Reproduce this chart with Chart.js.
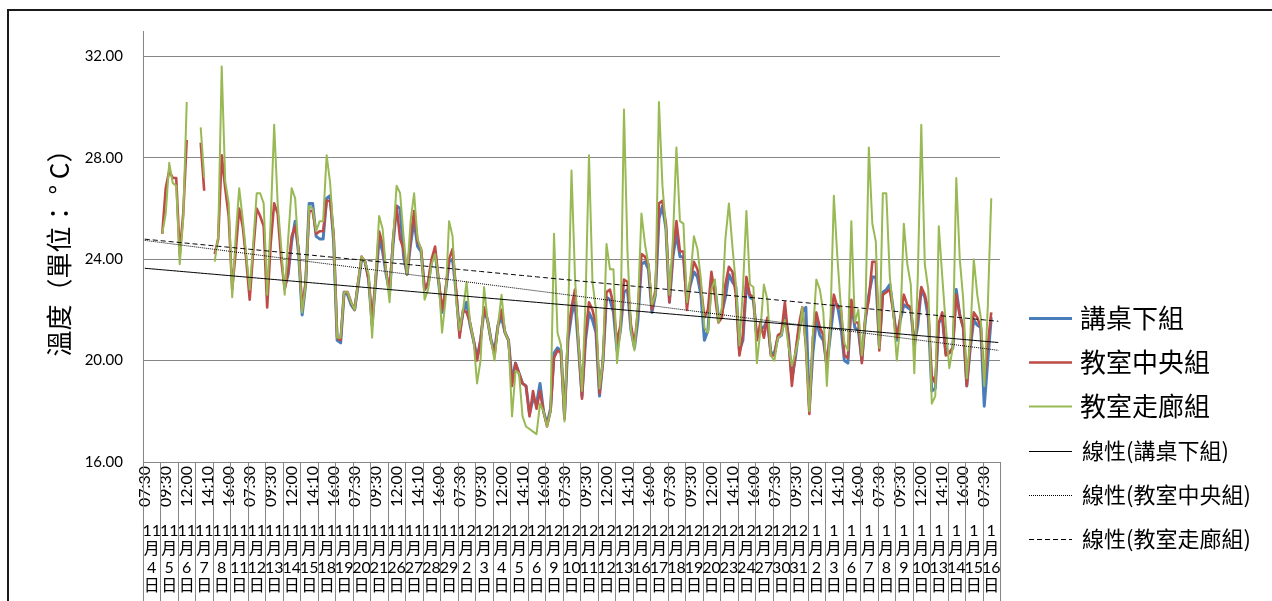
<!DOCTYPE html>
<html lang="zh-Hant">
<head>
<meta charset="UTF-8">
<title>溫度</title>
<script src="https://cdn.jsdelivr.net/npm/chart.js@4.4.1/dist/chart.umd.min.js"></script>
<style>
  html, body { margin: 0; padding: 0; background: #fff; overflow: hidden; }
  #frame { position: absolute; left: 7px; top: 9px; width: 1400px; height: 700px;
           border-left: 2px solid #1a1a1a; border-top: 2px solid #1a1a1a; }
  #grafico { position: absolute; left: 0; top: 0; }
</style>
</head>
<body>
<div id="frame"></div>
<canvas id="grafico" width="1272" height="601"></canvas>
<script>
// fechas de medición y horas de cada día
const days = ['11/4','11/5','11/6','11/7','11/8','11/11','11/12','11/13','11/14','11/15',
  '11/18','11/19','11/20','11/21','11/26','11/27','11/28','11/29',
  '12/2','12/3','12/4','12/5','12/6','12/9','12/10','12/11','12/12','12/13',
  '12/16','12/17','12/18','12/19','12/20','12/23','12/24','12/27','12/30','12/31',
  '1/2','1/3','1/6','1/7','1/8','1/9','1/10','1/13','1/14','1/15','1/16'];
const times = ['07:30','09:30','12:00','14:10','16:00'];

// 講桌下組
const deskGroup = [
  null,null,null,null,null,null,null,null,null,null,
  null,null,null,null,null,null,null,null,null,null,
  null,null,null,null,null,null,null,null,null,null,
  null,null,null,null,null,null,null,null,null,null,
  22.9,23.4,24.7,25.5,24.2,21.8,23.0,26.2,26.2,24.9,
  24.8,24.8,26.4,26.5,24.7,20.8,20.7,22.7,22.6,22.2,
  22.0,23.0,24.0,23.9,23.2,21.4,23.1,24.8,24.3,23.4,
  22.7,24.6,26.1,26.0,24.1,23.4,24.6,25.5,24.5,24.3,
  22.8,23.0,23.9,24.3,23.1,21.9,22.7,23.9,24.0,22.7,
  21.1,21.9,22.3,21.4,20.8,20.1,20.8,22.0,21.6,20.8,
  20.4,21.4,21.7,21.1,20.8,19.2,19.9,19.5,19.1,19.0,
  17.9,18.5,18.3,19.1,18.0,17.5,18.1,20.3,20.5,20.4,
  17.8,20.8,21.8,22.3,20.5,18.6,20.8,21.9,21.6,21.1,
  18.6,20.0,22.5,22.4,21.9,20.4,21.2,22.7,22.8,21.2,
  20.5,21.6,23.8,23.9,23.6,21.9,22.6,25.6,26.1,25.2,
  22.3,24.1,25.0,24.1,24.1,22.3,23.0,23.5,23.3,22.6,
  20.8,21.2,23.2,22.9,21.7,21.9,22.5,23.4,23.1,22.9,
  20.4,20.8,23.0,22.5,22.4,20.9,21.3,21.3,21.6,20.3,
  20.3,20.9,21.0,21.8,21.0,19.3,20.1,21.2,21.9,22.1,
  18.2,20.3,21.6,21.0,20.8,19.8,21.0,22.2,22.2,21.4,
  20.0,19.9,22.3,21.3,21.2,20.0,21.6,22.6,23.3,23.3,
  20.6,22.7,22.8,23.0,22.0,20.8,21.6,22.2,22.1,22.0,
  20.6,21.4,22.8,22.5,21.7,18.8,18.9,21.5,21.7,20.3,
  20.3,20.5,22.8,21.8,21.3,19.0,20.5,21.6,21.4,21.3,
  18.2,20.0,21.7,null,null
];

// 教室中央組
const centerGroup = [
  null,null,null,null,null,25.0,26.8,27.5,27.2,27.2,
  24.2,25.8,28.7,null,null,null,28.6,26.7,null,null,
  24.2,24.8,28.1,26.8,25.7,22.8,24.3,26.0,25.3,24.0,
  22.4,24.3,26.0,25.7,25.3,22.1,24.6,26.2,25.8,24.0,
  22.8,23.5,24.9,25.3,24.4,22.0,23.1,25.9,25.9,25.0,
  25.1,25.1,26.3,26.3,25.0,20.9,20.8,22.7,22.7,22.3,
  22.0,23.1,24.1,23.9,23.2,21.6,23.2,25.1,24.6,23.5,
  22.7,24.8,26.1,24.8,24.4,23.4,24.8,25.9,24.7,24.4,
  22.8,23.1,24.0,24.5,23.2,22.0,22.8,24.0,24.4,22.8,
  20.9,22.0,21.9,21.5,20.8,20.0,20.8,22.1,21.6,20.8,
  20.2,21.4,22.0,21.1,20.8,19.0,19.9,19.5,19.1,19.0,
  17.8,18.8,18.1,18.8,18.0,17.4,18.0,20.1,20.4,20.3,
  17.7,21.0,22.1,22.8,20.7,18.5,21.0,22.3,22.0,21.4,
  18.7,20.0,22.7,22.8,22.2,20.7,21.4,23.2,23.1,21.4,
  20.6,22.0,24.2,24.1,23.8,22.0,22.8,26.2,26.3,25.4,
  22.3,24.3,25.5,24.3,24.3,22.0,23.2,23.9,23.6,22.9,
  21.7,22.0,23.5,22.6,21.5,21.7,23.0,23.7,23.5,22.6,
  20.2,21.0,23.3,22.6,22.5,20.8,21.5,20.9,21.7,20.2,
  20.2,21.0,21.1,22.3,20.9,19.0,20.3,21.4,22.1,20.6,
  17.9,20.9,21.9,21.3,21.0,19.7,21.4,22.6,22.1,22.1,
  20.2,20.1,22.4,21.5,21.5,19.9,21.7,22.4,23.9,23.9,
  20.4,22.6,22.7,22.8,21.9,20.9,21.7,22.6,22.2,22.1,
  20.6,21.7,22.9,22.6,22.0,19.4,19.1,21.5,21.9,20.2,
  20.3,20.5,22.6,21.8,21.3,19.0,20.6,21.9,21.7,21.3,
  19.2,20.6,21.9,null,null
];

// 教室走廊組
const corridorGroup = [
  null,null,null,null,null,25.0,25.8,27.8,27.0,26.9,
  23.8,25.6,30.2,null,null,null,29.2,27.2,null,null,
  23.9,24.9,31.6,27.1,26.2,22.5,24.9,26.8,25.6,24.2,
  22.8,24.6,26.6,26.6,26.2,22.6,25.5,29.3,26.2,24.5,
  22.6,24.8,26.8,26.4,24.2,21.9,23.0,26.1,26.0,25.1,
  25.5,25.5,28.1,27.0,24.9,20.9,20.9,22.7,22.7,22.3,
  22.0,23.1,24.1,23.9,23.4,20.9,23.3,25.7,25.2,23.5,
  22.3,24.8,26.9,26.6,24.9,23.4,25.5,26.6,24.8,24.4,
  22.4,22.8,23.8,24.2,23.2,21.1,22.4,25.5,24.9,22.4,
  21.2,22.0,23.1,21.5,20.8,19.1,20.0,22.9,21.6,20.8,
  20.0,21.4,22.6,21.1,20.8,17.8,19.6,19.5,17.8,17.4,
  17.3,17.2,17.1,18.3,18.0,17.4,18.0,25.0,21.1,20.6,
  17.6,21.5,27.5,23.3,20.7,18.8,22.3,28.1,23.1,22.0,
  18.9,20.0,24.6,23.6,23.6,19.9,21.2,29.9,24.3,21.2,
  20.4,22.2,25.8,24.6,23.8,22.2,22.6,30.2,26.9,25.2,
  22.6,24.8,28.4,25.5,25.4,22.3,23.3,24.9,24.4,23.2,
  21.3,21.1,22.8,23.2,21.5,22.1,24.8,26.2,24.5,23.0,
  20.6,22.8,25.9,23.0,22.9,19.9,21.2,23.0,22.4,20.2,
  20.0,20.9,21.0,21.6,20.6,19.8,20.3,20.9,22.1,20.6,
  18.0,21.0,23.2,22.8,21.9,19.0,21.4,26.5,24.1,22.1,
  20.7,20.4,25.5,21.5,22.0,20.2,21.7,28.4,25.4,24.7,
  20.5,26.6,26.6,23.3,21.9,20.0,21.4,25.4,23.8,23.0,
  19.5,23.3,29.3,23.8,22.8,18.3,18.6,25.3,23.3,21.4,
  19.7,20.5,27.2,24.0,22.4,19.3,20.9,24.0,22.6,21.7,
  19.0,22.1,26.4,null,null
];

// eje vertical
const yMin = 16, yMax = 33, yStep = 4;

const labels = days.flatMap(d => times.map(t => d + ' ' + t));

// recta de mínimos cuadrados sobre el índice de cada medición
function lineaTendencia(valores) {
  let n = 0, sx = 0, sy = 0, sxx = 0, sxy = 0;
  valores.forEach((v, i) => {
    if (v === null) return;
    n++; sx += i; sy += v; sxx += i * i; sxy += i * v;
  });
  const m = (n * sxy - sx * sy) / (n * sxx - sx * sx);
  const b = (sy - m * sx) / n;
  return valores.map((_, i) => b + m * i);
}

const cjk = "'Noto Sans CJK TC', sans-serif";
const num = "Lato, 'Noto Sans CJK TC', sans-serif";

// filas de fecha (mes / 月 / día / 日) debajo de las horas
const ejeFechas = {
  id: 'ejeFechas',
  afterDraw(chart) {
    const { ctx, chartArea, scales: { x } } = chart;
    const paso = x.getPixelForValue(1) - x.getPixelForValue(0);
    const top = chartArea.bottom, bottom = chart.height;
    ctx.save();
    ctx.strokeStyle = '#868686';
    ctx.lineWidth = 1;
    ctx.beginPath();
    for (let d = 0; d <= days.length; d++) {
      const px = Math.round(x.getPixelForValue(d * times.length) - paso / 2) + 0.5;
      ctx.moveTo(px, top);
      ctx.lineTo(px, bottom);
    }
    ctx.stroke();
    ctx.fillStyle = '#000';
    ctx.font = '16px ' + num;
    ctx.textAlign = 'center';
    ctx.textBaseline = 'middle';
    days.forEach((d, i) => {
      const [mes, dia] = d.split('/');
      const cx = x.getPixelForValue(i * times.length + 2);
      [mes, '月', dia, '日'].forEach((s, r) => ctx.fillText(s, cx, top + 69 + r * 18.3));
    });
    ctx.restore();
  }
};

// leyenda a la derecha del gráfico
const leyenda = {
  id: 'leyenda',
  afterDraw(chart) {
    const { ctx, chartArea } = chart;
    const x0 = chartArea.right + 29;
    ctx.save();
    ctx.textBaseline = 'middle';
    ctx.textAlign = 'left';
    chart.data.datasets.forEach((ds, i) => {
      const y = 318 + i * 44.2;
      ctx.strokeStyle = ds.borderColor;
      ctx.lineWidth = ds.borderWidth;
      ctx.setLineDash(ds.borderDash || []);
      ctx.beginPath();
      ctx.moveTo(x0, Math.round(y) + 0.5);
      ctx.lineTo(x0 + 43, Math.round(y) + 0.5);
      ctx.stroke();
      ctx.setLineDash([]);
      ctx.fillStyle = '#000';
      ctx.font = (ds.trend ? '22px ' : '26px ') + cjk;
      ctx.fillText(ds.label, x0 + (ds.trend ? 53 : 51), y);
    });
    ctx.restore();
  }
};

const ctx = document.getElementById('grafico').getContext('2d');
const grafico = new Chart(ctx, {
  type: 'line',
  data: {
    labels: labels,
    datasets: [
      { label: '講桌下組', data: deskGroup, borderColor: '#4A7EBB', borderWidth: 3, order: 3 },
      { label: '教室中央組', data: centerGroup, borderColor: '#BE4B48', borderWidth: 2.6, order: 2 },
      { label: '教室走廊組', data: corridorGroup, borderColor: '#98B954', borderWidth: 2, order: 1 },
      { label: '線性(講桌下組)', data: lineaTendencia(deskGroup), borderColor: '#000', borderWidth: 1, trend: true, order: 0 },
      { label: '線性(教室中央組)', data: lineaTendencia(centerGroup), borderColor: '#000', borderWidth: 1, borderDash: [1, 1], trend: true, order: 0 },
      { label: '線性(教室走廊組)', data: lineaTendencia(corridorGroup), borderColor: '#000', borderWidth: 1, borderDash: [5, 3], trend: true, order: 0 }
    ]
  },
  options: {
    responsive: false,
    animation: false,
    spanGaps: false,
    layout: { padding: { left: 40, right: 272, top: 31, bottom: 0 } },
    elements: { point: { radius: 0 }, line: { tension: 0, borderJoinStyle: 'round' } },
    plugins: { legend: { display: false }, tooltip: { enabled: false } },
    scales: {
      x: {
        offset: true,
        grid: { display: false, drawTicks: false },
        border: { color: '#868686' },
        ticks: {
          autoSkip: false, minRotation: 90, maxRotation: 90, padding: 4,
          color: '#000', font: { family: num, size: 16 },
          callback(v, i) { return i % 6 === 0 ? this.getLabelForValue(v).split(' ')[1] : ''; }
        },
        afterFit(s) { s.height = 139; s.paddingLeft = 0; s.paddingRight = 0; }
      },
      y: {
        min: yMin, max: yMax,
        grid: { color: '#868686', drawTicks: false },
        border: { color: '#868686' },
        ticks: {
          stepSize: yStep, includeBounds: false, padding: 20,
          color: '#000', font: { family: num, size: 15 },
          callback: v => v.toFixed(2)
        },
        title: { display: true, text: '溫度（單位： ° C）', color: '#000', font: { family: cjk, size: 26 } },
        afterFit(s) { s.width = 103; s.paddingTop = 0; s.paddingBottom = 0; }
      }
    }
  },
  plugins: [ejeFechas, leyenda]
});
</script>
</body>
</html>
